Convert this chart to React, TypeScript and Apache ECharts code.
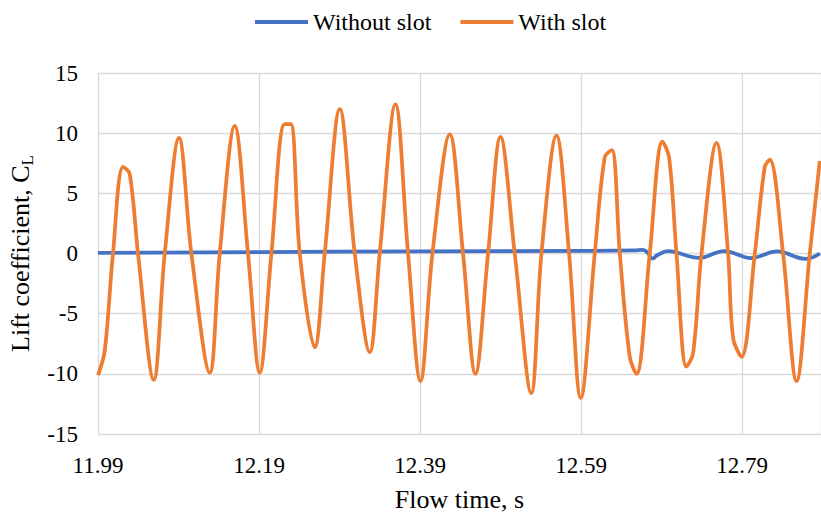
import React, { useEffect, useRef } from "react";
import * as echarts from "echarts";

const seriesNames = ["Without slot", "With slot"];

const timeWithSlot = [
  11.99, 11.9983, 12.0086, 12.0211, 12.0294, 12.0397, 12.0592, 12.0729, 12.0906, 12.106,
  12.1288, 12.1412, 12.1598, 12.1763, 12.1909, 12.2054, 12.2219, 12.2294, 12.2406, 12.2592,
  12.2716, 12.2903, 12.3089, 12.3275, 12.3399, 12.3594, 12.3751, 12.3905, 12.4054, 12.4269,
  12.4434, 12.4588, 12.4745, 12.4899, 12.5076, 12.5281, 12.5408, 12.5594, 12.5751, 12.5896,
  12.607, 12.6194, 12.6281, 12.6381, 12.6505, 12.6588, 12.6753, 12.6911, 12.6993, 12.7085,
  12.7209, 12.7291, 12.7396, 12.7582, 12.7726, 12.7788, 12.7893, 12.8058, 12.8182, 12.8244,
  12.8409, 12.8576, 12.8741, 12.8865,
];
const liftWithSlot = [
  -10.1, -8.1, 0, 7.2, 6.6, 0, -10.5, 0, 9.6, 0,
  -9.9, 0, 10.6, 0, -9.9, 0, 10.75, 10.75, 0, -7.8,
  0, 12.0, 0, -8.2, 0, 12.4, 0, -10.6, 0, 9.9,
  0, -10.0, 0, 9.7, 0, -11.6, 0, 9.8, 0, -12.0,
  0, 8.0, 8.6, 0, -8.6, -10.0, 0, 9.3, 8.0, 0,
  -9.4, -8.3, 0, 9.2, 0, -7.0, -8.6, 0, 7.2, 7.8,
  0, -10.6, 0, 7.7,
];

const timeWithoutSlot = [
  11.99, 12.1896, 12.3896, 12.5896, 12.6567, 12.6654, 12.6716, 12.6791, 12.684, 12.6977,
  12.7365, 12.7676, 12.8011, 12.8334, 12.8694, 12.8865,
];
const liftWithoutSlot = [
  0.05, 0.12, 0.18, 0.22, 0.25, 0.3, 0.15, -0.42, -0.17, 0.2,
  -0.36, 0.2, -0.38, 0.17, -0.45, 0.0,
];

const xMin = 11.99;
const xMax = 12.888;
const xInterval = 0.2;
const yMin = -15;
const yMax = 15;
const yInterval = 5;

const colors = ["#4472C4", "#ED7D31"];
const FONT = "Liberation Serif";

export default function App() {
  const ref = useRef<HTMLDivElement>(null);
  useEffect(() => {
    if (!ref.current) return;
    const chart = echarts.init(ref.current, null, { renderer: "svg" });
    chart.setOption({
      animation: false,
      color: colors,
      textStyle: { fontFamily: FONT, color: "#000" },
      legend: {
        top: 5,
        left: 250,
        icon: "rect",
        itemWidth: 53,
        itemHeight: 4,
        itemGap: 29,
        textStyle: { fontFamily: FONT, fontSize: 24, color: "#000" },
        data: seriesNames,
      },
      grid: {
        left: 98,
        right: 0,
        top: 73,
        bottom: 79,
        containLabel: false,
        outerBoundsMode: "none",
      },
      xAxis: {
        type: "value",
        min: xMin,
        max: xMax,
        interval: xInterval,
        name: "Flow time, s",
        nameLocation: "middle",
        nameGap: 52,
        nameTextStyle: { fontFamily: FONT, fontSize: 26, color: "#000" },
        axisLine: { show: false },
        axisTick: { show: false },
        axisLabel: {
          fontFamily: FONT,
          fontSize: 23,
          color: "#000",
          margin: 20,
          showMaxLabel: false,
          formatter: (v: number) => v.toFixed(2),
        },
        splitLine: { show: true, lineStyle: { color: "#D9D9D9", width: 1.3 } },
      },
      yAxis: {
        type: "value",
        min: yMin,
        max: yMax,
        interval: yInterval,
        name: "Lift coefficient, C{sub|L}",
        nameLocation: "middle",
        nameGap: 51,
        nameRotate: 90,
        nameTextStyle: {
          fontFamily: FONT,
          fontSize: 26,
          color: "#000",
          lineHeight: 32,
          rich: {
            sub: { fontFamily: FONT, fontSize: 17, color: "#000", verticalAlign: "bottom", lineHeight: 32 },
          },
        },
        axisLine: { show: false },
        axisTick: { show: false },
        axisLabel: { fontFamily: FONT, fontSize: 23, color: "#000", margin: 20 },
        splitLine: { show: true, lineStyle: { color: "#D9D9D9", width: 1.3 } },
      },
      series: [
        {
          name: seriesNames[0],
          type: "line",
          data: timeWithoutSlot.map((t, i) => [t, liftWithoutSlot[i]]),
          smooth: 0.4,
          showSymbol: false,
          symbol: "none",
          lineStyle: { width: 3.75, color: colors[0] },
          itemStyle: { color: colors[0] },
          z: 2,
        },
        {
          name: seriesNames[1],
          type: "line",
          data: timeWithSlot.map((t, i) => [t, liftWithSlot[i]]),
          smooth: 0.35,
          showSymbol: false,
          symbol: "none",
          lineStyle: { width: 3.75, color: colors[1] },
          itemStyle: { color: colors[1] },
          z: 3,
        },
      ],
    });
    return () => chart.dispose();
  }, []);
  return (
    <div
      ref={ref}
      style={{ position: "fixed", left: 0, top: 0, width: 821, height: 513, background: "#fff" }}
    />
  );
}
